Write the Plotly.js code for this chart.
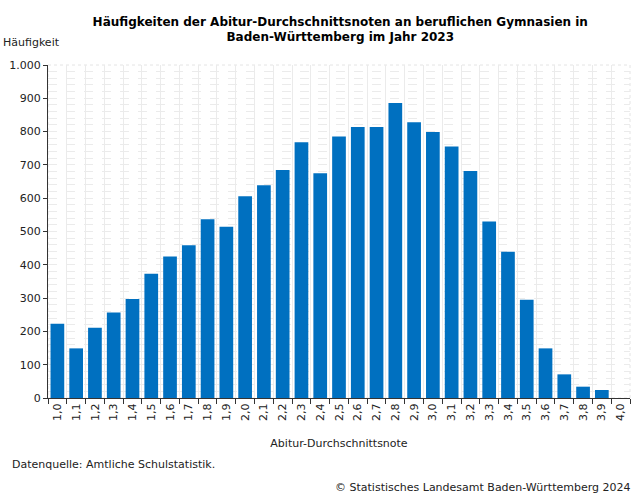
<!DOCTYPE html>
<html>
<head>
<meta charset="utf-8">
<script src="https://cdn.plot.ly/plotly-3.0.1.min.js"></script>
<style>
  body { margin: 0; background: #fff; }
  #chart { width: 636px; height: 496px; }
</style>
</head>
<body>
<div id="chart"></div>
<script>
const noten = ['1,0', '1,1', '1,2', '1,3', '1,4', '1,5', '1,6', '1,7', '1,8', '1,9',
  '2,0', '2,1', '2,2', '2,3', '2,4', '2,5', '2,6', '2,7', '2,8', '2,9',
  '3,0', '3,1', '3,2', '3,3', '3,4', '3,5', '3,6', '3,7', '3,8', '3,9', '4,0'];

const haeufigkeit = [223, 149, 211, 257, 297, 373, 425, 459, 537, 514,
  606, 639, 685, 768, 675, 785, 814, 814, 886, 828,
  799, 755, 682, 530, 439, 295, 149, 71, 34, 24, 0];

const yTicks = [0, 100, 200, 300, 400, 500, 600, 700, 800, 900, 1000];

const font = 'DejaVu Sans, Verdana, sans-serif';
const gridGrey = '#ebebeb';

const trace = {
  type: 'bar',
  x: noten,
  y: haeufigkeit,
  marker: { color: '#0070c0' },
  hoverinfo: 'x+y',
};

const layout = {
  width: 636,
  height: 496,
  margin: { l: 48, r: 6, t: 65, b: 98 },
  paper_bgcolor: '#fff',
  plot_bgcolor: '#fff',
  separators: ',.',
  bargap: 0.27,
  showlegend: false,
  font: { family: font, size: 11, color: '#222' },
  title: {
    text: 'Häufigkeiten der Abitur-Durchschnittsnoten an beruflichen Gymnasien in<br>Baden-Württemberg im Jahr 2023',
    font: { family: font, size: 12, color: '#000', weight: 'bold' },
    x: 0.535,
    xanchor: 'center',
    y: 0.948,
    yanchor: 'top',
  },
  xaxis: {
    type: 'category',
    tickangle: -90,
    tickson: 'boundaries',
    ticks: 'outside',
    ticklen: 5,
    tickcolor: '#333',
    showline: true,
    linecolor: '#333',
    linewidth: 1,
    showgrid: true,
    gridcolor: gridGrey,
    gridwidth: 1,
    tickfont: { family: font, size: 11, color: '#222' },
    title: {
      text: 'Abitur-Durchschnittsnote',
      font: { family: font, size: 11, color: '#222' },
      standoff: 19,
    },
    fixedrange: true,
  },
  yaxis: {
    range: [0, 1000],
    tickvals: yTicks,
    tickformat: ',d',
    ticks: 'outside',
    ticklen: 4,
    tickcolor: '#333',
    showline: true,
    linecolor: '#333',
    linewidth: 1,
    showgrid: true,
    gridcolor: gridGrey,
    griddash: 'dash',
    zeroline: false,
    minor: {
      dtick: 20,
      showgrid: true,
      gridcolor: gridGrey,
      griddash: 'dash',
      ticks: '',
    },
    tickfont: { family: font, size: 11, color: '#222' },
    fixedrange: true,
  },
  shapes: [
    {
      type: 'rect', xref: 'paper', yref: 'paper',
      x0: 0, x1: 1, y0: 0, y1: 1,
      line: { color: '#e4e4e4', width: 1, dash: 'dot' },
      layer: 'below',
    },
  ],
  annotations: [
    {
      text: 'Häufigkeit', xref: 'paper', yref: 'paper',
      x: -0.08, y: 1.068, xanchor: 'left', yanchor: 'middle',
      showarrow: false, font: { family: font, size: 11, color: '#222' },
    },
    {
      text: 'Datenquelle: Amtliche Schulstatistik.', xref: 'paper', yref: 'paper',
      x: -0.065, y: -0.2, xanchor: 'left', yanchor: 'middle',
      showarrow: false, font: { family: font, size: 11, color: '#222' },
    },
    {
      text: '© Statistisches Landesamt Baden-Württemberg 2024', xref: 'paper', yref: 'paper',
      x: 1.005, y: -0.27, xanchor: 'right', yanchor: 'middle',
      showarrow: false, font: { family: font, size: 11, color: '#222' },
    },
  ],
};

const config = {
  responsive: false,
  displayModeBar: false,
};

Plotly.newPlot('chart', [trace], layout, config);
</script>
</body>
</html>
